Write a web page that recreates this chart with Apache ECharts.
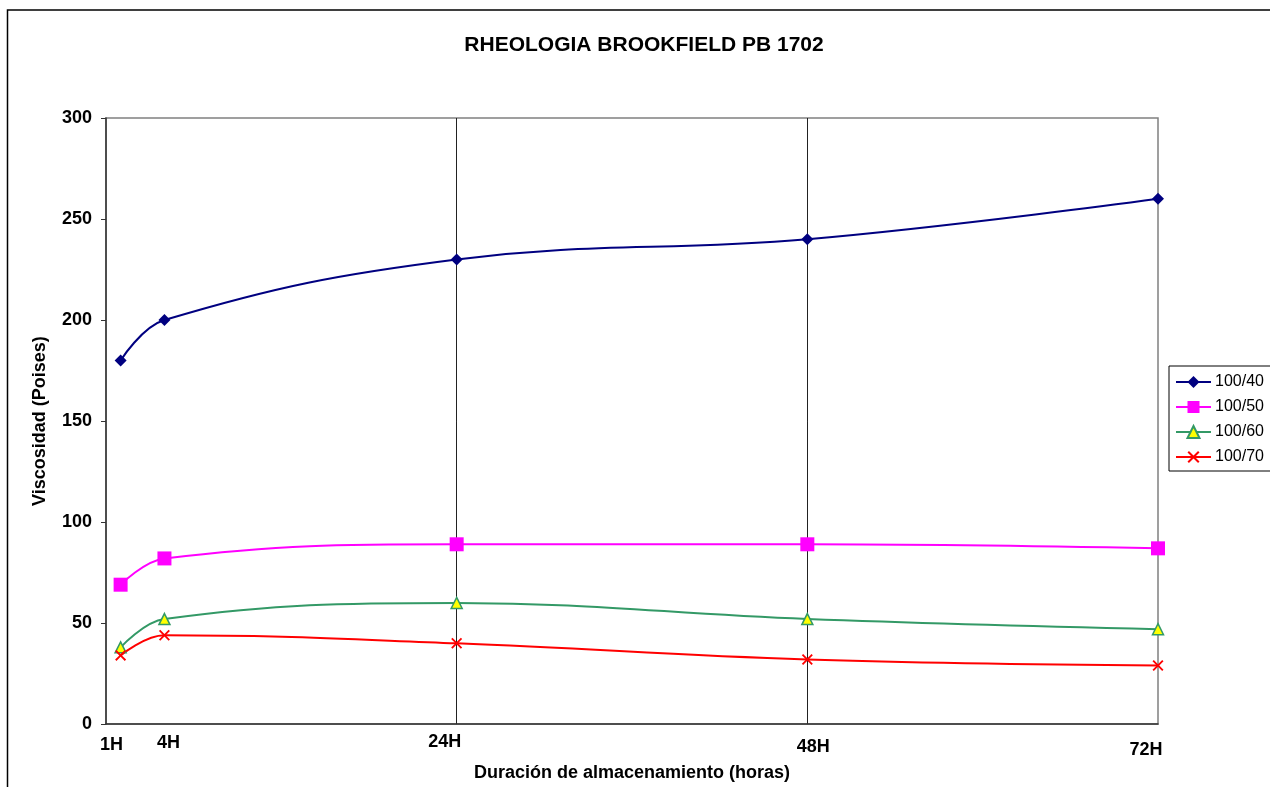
<!DOCTYPE html>
<html>
<head>
<meta charset="utf-8">
<script src="https://cdn.jsdelivr.net/npm/echarts@6/dist/echarts.min.js"></script>
<style>
html,body{margin:0;padding:0;background:#fff;}
#c{width:1270px;height:787px;}
</style>
</head>
<body>
<div id="c"></div>
<script>
// Data (hours and viscosity in Poises)
const hours = [1, 4, 24, 48, 72];
const hourLabels = ['1H', '4H', '24H', '48H', '72H'];
const seriesNames = ['100/40', '100/50', '100/60', '100/70'];
const v100_40 = [180, 200, 230, 240, 260];
const v100_50 = [69, 82, 89, 89, 87];
const v100_60 = [38, 52, 60, 52, 47];
const v100_70 = [34, 44, 40, 32, 29];
const yTicks = [0, 50, 100, 150, 200, 250, 300];

const FONT = 'Liberation Sans, Arial, sans-serif';
function pairs(vals){ return hours.map((h,i)=>[h, vals[i]]); }

// per-label fine placement (style only)
const labelRich = {
  l0:{fontSize:18,fontWeight:'bold',fontFamily:FONT,color:'#000',padding:[3,18,0,0]},
  l1:{fontSize:18,fontWeight:'bold',fontFamily:FONT,color:'#000',padding:[1,0,0,8]},
  l2:{fontSize:18,fontWeight:'bold',fontFamily:FONT,color:'#000',padding:[0,24,0,0]},
  l3:{fontSize:18,fontWeight:'bold',fontFamily:FONT,color:'#000',padding:[5,0,0,12]},
  l4:{fontSize:18,fontWeight:'bold',fontFamily:FONT,color:'#000',padding:[8,24,0,0]}
};

const xPath = 'path://M0,1.2L1.2,0L5,3.8L8.8,0L10,1.2L6.2,5L10,8.8L8.8,10L5,6.2L1.2,10L0,8.8L3.8,5Z';

const chart = echarts.init(document.getElementById('c'), null, {renderer:'canvas'});
chart.setOption({
  animation:false,
  backgroundColor:'#fff',
  textStyle:{fontFamily:FONT},
  title:{
    text:'RHEOLOGIA BROOKFIELD PB 1702',
    left:644, top:35, padding:0, textAlign:'center',
    textStyle:{fontSize:21,fontWeight:'bold',color:'#000',fontFamily:FONT}
  },
  graphic:[{
    type:'rect', z:-10, silent:true,
    shape:{x:7.5,y:10,width:1300,height:800},
    style:{fill:'none',stroke:'#000',lineWidth:1.5}
  }],
  grid:{left:106,right:112,top:118,bottom:60,show:true,borderColor:'#808080',borderWidth:1.5,backgroundColor:'transparent'},
  legend:{
    orient:'vertical', left:1169, top:366,
    padding:[8,8,6,6], itemWidth:35, itemHeight:15, itemGap:9,
    borderColor:'#000', borderWidth:1, backgroundColor:'#fff',
    textStyle:{fontSize:16,color:'#000',fontFamily:FONT,padding:[0,0,0,-1]},
    data:seriesNames
  },
  xAxis:{
    type:'value', min:0, max:72, interval:24,
    name:'Duración de almacenamiento (horas)', nameLocation:'middle', nameGap:36,
    nameTextStyle:{fontSize:18,fontWeight:'bold',color:'#000',fontFamily:FONT},
    axisLine:{show:true,lineStyle:{color:'#333',width:1.5}},
    axisTick:{show:false},
    axisLabel:{
      customValues:hours, margin:9,
      formatter:function(v){ const i = hours.indexOf(v); return '{l'+i+'|'+hourLabels[i]+'}'; },
      rich:labelRich
    },
    splitLine:{show:true,showMinLine:false,showMaxLine:false,lineStyle:{color:'#222',width:1}}
  },
  yAxis:{
    type:'value', min:0, max:300, interval:50,
    name:'Viscosidad (Poises)', nameLocation:'middle', nameGap:57,
    nameTextStyle:{fontSize:18,fontWeight:'bold',color:'#000',fontFamily:FONT},
    axisLine:{show:true,lineStyle:{color:'#333',width:1.5}},
    axisTick:{show:true,inside:false,length:5,lineStyle:{color:'#333',width:1}},
    axisLabel:{customValues:yTicks,margin:14,fontSize:18,fontWeight:'bold',color:'#000',fontFamily:FONT},
    splitLine:{show:false}
  },
  series:[
    {name:'100/40',type:'line',smooth:0.4,data:pairs(v100_40),
     symbol:'diamond',symbolSize:12,
     lineStyle:{color:'#000080',width:2},itemStyle:{color:'#000080'}},
    {name:'100/50',type:'line',smooth:0.4,data:pairs(v100_50),
     symbol:'rect',symbolSize:14,
     lineStyle:{color:'#FF00FF',width:2},itemStyle:{color:'#FF00FF'}},
    {name:'100/60',type:'line',smooth:0.4,data:pairs(v100_60),
     symbol:'triangle',symbolSize:11,
     lineStyle:{color:'#339966',width:2},itemStyle:{color:'#FFFF00',borderColor:'#339966',borderWidth:1.5}},
    {name:'100/70',type:'line',smooth:0.4,data:pairs(v100_70),
     symbol:xPath,symbolSize:11,
     lineStyle:{color:'#FF0000',width:2},itemStyle:{color:'#FF0000'}}
  ]
});
</script>
</body>
</html>
